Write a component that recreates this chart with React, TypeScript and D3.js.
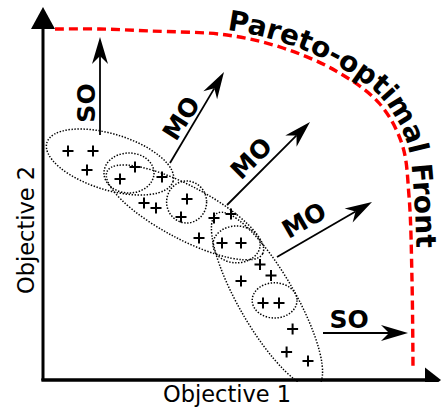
import React from "react";
import * as d3 from "d3";

const W = 441;
const H = 410;

// Pareto-optimal front, in objective units [obj1, obj2]
const paretoFront: [number, number][] = [
  [3, 87.75], [14.25, 87.75], [26.75, 87.25], [46, 86.25], [60, 83],
  [73.25, 77.25], [84, 69.25], [89.75, 59], [91.5, 46], [92.25, 25], [92.5, 3.25],
];

// candidate solutions (+)
const solutions: [number, number][] = [
  [6.25, 57.25], [12.5, 57.25], [11, 52.5], [19.25, 50.25], [23, 53.25],
  [29.75, 50.75], [25.25, 44.25], [28.25, 43], [36, 45.25], [34.5, 40.75],
  [42.75, 40.5], [47, 41.5], [39, 35.5], [44.75, 34.25], [49.5, 34.25],
  [54.25, 28.9], [57, 26.1], [49.5, 24.75], [55, 19.25], [59, 19.25],
  [62.4, 12.75], [60.9, 7], [66.25, 4.75],
];

// cluster ellipses: centre (obj1, obj2), semi-axes (objective units), tilt (deg)
const largeClusters = [
  { cx: 16.75, cy: 54.5, rx: 16.5, ry: 7, angle: 17 },
  { cx: 35.5, cy: 41.9, rx: 22, ry: 6.6, angle: 28 },
  { cx: 56, cy: 20, rx: 25, ry: 7, angle: 60 },
];
const smallClusters = [
  { cx: 21.5, cy: 51.75, rx: 6.25, ry: 5, angle: 0 },
  { cx: 35.9, cy: 44.5, rx: 5, ry: 5.25, angle: 0 },
  { cx: 48.4, cy: 33.9, rx: 5.9, ry: 4.6, angle: 0 },
  { cx: 57.9, cy: 19.9, rx: 5.6, ry: 4.4, angle: 0 },
];

// search directions
const directions = [
  { from: [14.25, 61.25], to: [14.25, 85.75] },
  { from: [31.75, 54.25], to: [45.25, 77] },
  { from: [46, 43.75], to: [66.75, 64.5] },
  { from: [58.5, 30.75], to: [82.25, 44.5] },
  { from: [70, 11.75], to: [91.25, 11.75] },
];
const directionLabels = [
  { text: "SO", at: [10.75, 69.25], angle: -90 },
  { text: "MO", at: [34.5, 65.5], angle: -57 },
  { text: "MO", at: [52, 55.5], angle: -45 },
  { text: "MO", at: [65.25, 40], angle: -30 },
  { text: "SO", at: [76.5, 15.25], angle: 0 },
];

const axisLabels = { x: "Objective 1", y: "Objective 2" };
const frontLabel = "Pareto-optimal Front";

const FONT = "'DejaVu Sans', sans-serif";

export default function App() {
  const x = d3.scaleLinear().domain([0, 100]).range([43, 443]);
  const y = d3.scaleLinear().domain([0, 100]).range([380, -20]);
  const kx = x(1) - x(0);
  const ky = y(0) - y(1);

  const frontPx = paretoFront.map(([a, b]) => [x(a), y(b)] as [number, number]);
  const line = d3.line().curve(d3.curveCatmullRom.alpha(0.5));
  const frontD = line(frontPx) || "";

  // label path: front offset outward
  const off = 5;
  const offPts = frontPx.map((p, i) => {
    const p0 = frontPx[Math.max(0, i - 1)];
    const p1 = frontPx[Math.min(frontPx.length - 1, i + 1)];
    const dx = p1[0] - p0[0];
    const dy = p1[1] - p0[1];
    const len = Math.hypot(dx, dy) || 1;
    const nx = dy / len;
    const ny = -dx / len;
    return [p[0] + nx * off, p[1] + ny * off] as [number, number];
  });
  const labelD = line(offPts) || "";

  const axisTipY = y(93.25);
  const axisTipX = x(99.5);

  const arrowHead = (x1: number, y1: number, x2: number, y2: number) => {
    const dx = x2 - x1, dy = y2 - y1;
    const len = Math.hypot(dx, dy);
    const ux = dx / len, uy = dy / len;
    const nx = -uy, ny = ux;
    const L = 27, w = 8, notch = 19;
    const bx = x2 - ux * L, by = y2 - uy * L;
    const mx = x2 - ux * notch, my = y2 - uy * notch;
    return {
      d: `M${x2},${y2}L${bx + nx * w},${by + ny * w}L${mx},${my}L${bx - nx * w},${by - ny * w}Z`,
      mx, my,
    };
  };

  const plus = 5.5;

  return (
    <svg width={W} height={H} style={{ position: "absolute", left: 0, top: 0, display: "block", background: "#fff" }} fontFamily={FONT}>
      <defs>
        <path id="frontLabelPath" d={labelD} fill="none" />
      </defs>

      {/* clusters */}
      {[...largeClusters, ...smallClusters].map((c, i) => (
        <ellipse key={"e" + i} cx={x(c.cx)} cy={y(c.cy)} rx={c.rx * kx} ry={c.ry * ky}
          transform={`rotate(${c.angle} ${x(c.cx)} ${y(c.cy)})`}
          fill="none" stroke="#000" strokeWidth={1.5} strokeDasharray="1.4 1.6" />
      ))}

      {/* axes */}
      <line x1={x(0)} y1={y(0)} x2={x(0)} y2={axisTipY + 20} stroke="#000" strokeWidth={3} />
      <path d={`M${x(0)},${axisTipY}L${x(0) - 12},${axisTipY + 22}L${x(0) + 12},${axisTipY + 22}Z`} fill="#000" />
      <line x1={x(0) - 1.5} y1={y(0)} x2={axisTipX - 14} y2={y(0)} stroke="#000" strokeWidth={3} />
      <path d={`M${axisTipX},${y(0)}L${axisTipX - 16},${y(0) - 12.5}L${axisTipX - 16},${y(0) + 12.5}Z`} fill="#000" />

      <rect x={0} y={y(0) + 2} width={W} height={H} fill="#fff" />
      <line x1={x(0) - 1.5} y1={y(0)} x2={axisTipX - 14} y2={y(0)} stroke="#000" strokeWidth={3} />

      <text x={227} y={402} textAnchor="middle" fontSize={22.5} fill="#000">{axisLabels.x}</text>
      <text transform={`translate(34,230) rotate(-90)`} textAnchor="middle" fontSize={22.5} fill="#000">{axisLabels.y}</text>

      {/* Pareto front */}
      <path d={frontD} fill="none" stroke="#ff0000" strokeWidth={3.4} strokeDasharray="9 5" />
      <text fontSize={28} fontWeight="bold" fill="#000">
        <textPath href="#frontLabelPath" startOffset={172}>{frontLabel}</textPath>
      </text>

      {/* solutions */}
      {solutions.map(([a, b], i) => (
        <path key={"p" + i} d={`M${x(a) - plus},${y(b)}H${x(a) + plus}M${x(a)},${y(b) - plus}V${y(b) + plus}`}
          stroke="#000" strokeWidth={2} />
      ))}

      {/* directions */}
      {directions.map((dr, i) => {
        const x1 = x(dr.from[0]), y1 = y(dr.from[1]), x2 = x(dr.to[0]), y2 = y(dr.to[1]);
        const h = arrowHead(x1, y1, x2, y2);
        return (
          <g key={"a" + i}>
            <line x1={x1} y1={y1} x2={h.mx} y2={h.my} stroke="#000" strokeWidth={1.8} />
            <path d={h.d} fill="#000" />
          </g>
        );
      })}
      {directionLabels.map((l, i) => (
        <text key={"l" + i} transform={`translate(${x(l.at[0])},${y(l.at[1])}) rotate(${l.angle})`}
          textAnchor="middle" dy="0.36em" fontSize={25} fontWeight="bold" fill="#000">{l.text}</text>
      ))}
    </svg>
  );
}
